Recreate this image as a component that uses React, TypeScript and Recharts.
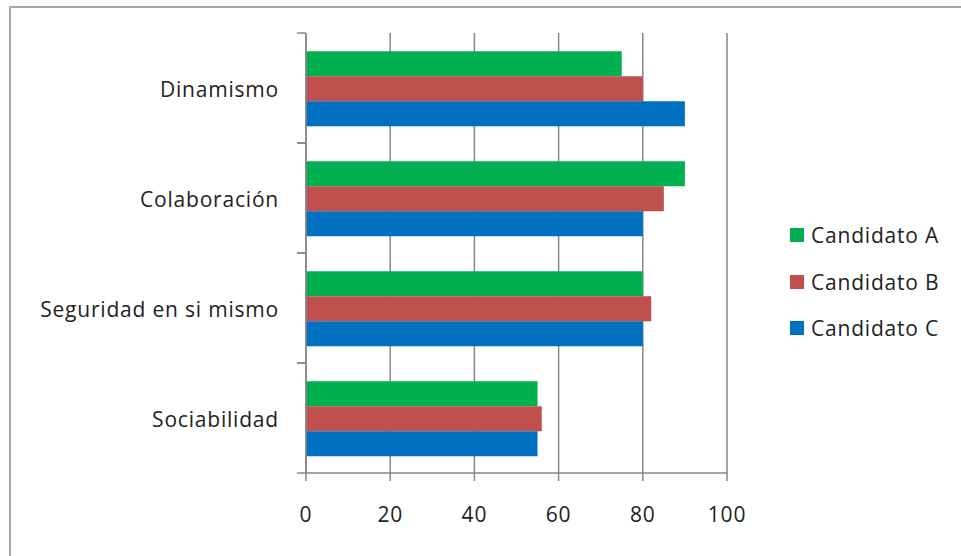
import React from 'react';
import { BarChart, Bar, XAxis, YAxis, CartesianGrid } from 'recharts';

// categories, top to bottom
const categories = ['Dinamismo', 'Colaboración', 'Seguridad en si mismo', 'Sociabilidad'];

const candidatoA = [75, 90, 80, 55];
const candidatoB = [80, 85, 82, 56];
const candidatoC = [90, 80, 80, 55];

const xTicks = [0, 20, 40, 60, 80, 100];

const seriesNames = ['Candidato A', 'Candidato B', 'Candidato C'];
const seriesKeys = ['a', 'b', 'c'];
const seriesColors = ['#00B050', '#C0504D', '#0070C0'];

const data = categories.map((name, i) => ({
  name,
  a: candidatoA[i],
  b: candidatoB[i],
  c: candidatoC[i],
}));

const W = 961;
const H = 556;
const margin = { top: 33, right: 234, bottom: 43, left: 0 };
const xAxisHeight = 40;
const yAxisWidth = 306;
const font = '"Open Sans", sans-serif';
const fontSize = 21;
const spacing = 0.8;
const textColor = '#222';
const axisColor = '#878787';

const bandSize = (H - margin.top - margin.bottom - xAxisHeight) / categories.length;

const CategoryTick = (props: any) => {
  const { y, payload } = props;
  const axisX = yAxisWidth;
  return (
    <g>
      <text
        x={axisX - 27}
        y={y + 2}
        dy="0.35em"
        textAnchor="end"
        fontFamily={font}
        fontSize={fontSize}
        letterSpacing={spacing}
        fill={textColor}
      >
        {payload.value}
      </text>
      {/* Excel style tick marks between categories */}
      <line x1={axisX - 9} x2={axisX} y1={y - bandSize / 2} y2={y - bandSize / 2} stroke={axisColor} strokeWidth={1.5} />
      <line x1={axisX - 9} x2={axisX} y1={y + bandSize / 2} y2={y + bandSize / 2} stroke={axisColor} strokeWidth={1.5} />
    </g>
  );
};

const ValueTick = (props: any) => {
  const { x, y, payload } = props;
  return (
    <text
      x={x}
      y={y}
      dy="0.71em"
      textAnchor="middle"
      fontFamily={font}
      fontSize={fontSize}
      letterSpacing={spacing}
      fill={textColor}
    >
      {payload.value}
    </text>
  );
};

export default function App() {
  return (
    <div style={{ position: 'absolute', left: 0, top: 0, width: W, height: H, background: '#fff', overflow: 'hidden' }}>
      <div
        style={{
          position: 'absolute',
          left: 9,
          top: 6,
          width: W,
          height: H,
          borderTop: '2px solid #a6a6a6',
          borderLeft: '2px solid #a6a6a6',
          boxSizing: 'border-box',
        }}
      />
      <BarChart
        width={W}
        height={H}
        data={data}
        layout="vertical"
        margin={margin}
        barCategoryGap="16.5%"
        barGap={0}
        style={{ position: 'absolute', left: 0, top: 0 }}
      >
        <CartesianGrid horizontal={false} stroke={axisColor} strokeWidth={1.5} />
        <XAxis
          type="number"
          domain={[0, 100]}
          ticks={xTicks}
          height={xAxisHeight}
          axisLine={{ stroke: axisColor, strokeWidth: 1.5 }}
          tickLine={{ stroke: axisColor, strokeWidth: 1.5 }}
          tickSize={8}
          tickMargin={26}
          tick={<ValueTick />}
          interval={0}
        />
        <YAxis
          type="category"
          dataKey="name"
          width={yAxisWidth}
          axisLine={{ stroke: axisColor, strokeWidth: 1.5 }}
          tickLine={false}
          tick={<CategoryTick />}
          interval={0}
        />
        {seriesKeys.map((k, i) => (
          <Bar key={k} dataKey={k} name={seriesNames[i]} fill={seriesColors[i]} isAnimationActive={false} />
        ))}
      </BarChart>
      {/* legend */}
      <div style={{ position: 'absolute', left: 790, top: 212 }}>
        {seriesNames.map((n, i) => (
          <div key={n} style={{ display: 'flex', alignItems: 'center', height: 46.5 }}>
            <span style={{ width: 14, height: 14, background: seriesColors[i], display: 'inline-block', marginRight: 7 }} />
            <span style={{ fontFamily: font, fontSize, letterSpacing: spacing, color: textColor }}>{n}</span>
          </div>
        ))}
      </div>
    </div>
  );
}
